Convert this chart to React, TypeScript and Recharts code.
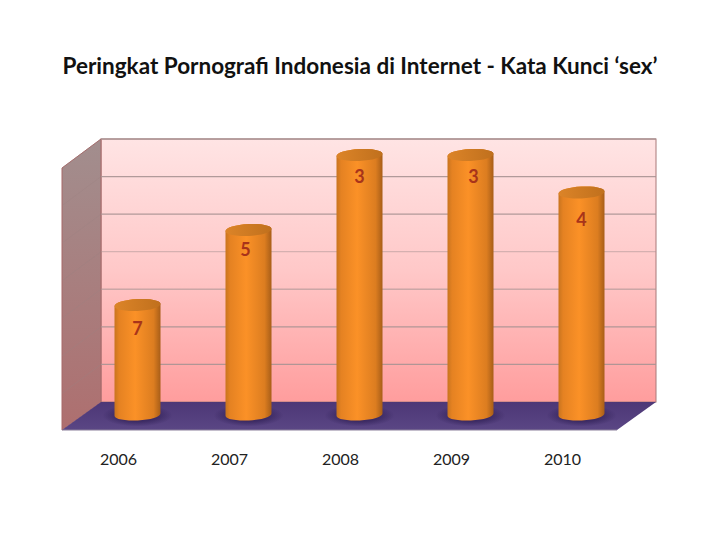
import React from "react";
import { ComposedChart, Bar, XAxis, YAxis, LabelList, Customized } from "recharts";

const years = ["2006", "2007", "2008", "2009", "2010"];
const ranks = [7, 5, 3, 3, 4];
const rankTop = 3;
const rankBase = 10;
const chartTitle = "Peringkat Pornografi Indonesia di Internet - Kata Kunci ‘sex’";

const tableData = years.map((year, i) => ({ year, rank: ranks[i], span: [rankBase, ranks[i]] }));

const W = 720, H = 540;
const LABEL_NUDGE_X = [0, -3, 0, 3, 0];
const LABEL_NUDGE_Y = [2, -2, 0, 0, 5];
const FONT = "Lato, Carlito, 'Open Sans', sans-serif";

function Walls() {
  const gridYs = [139, 176.6, 214.1, 251.7, 289.3, 326.9, 364.4];
  return (
    <g>
      <defs>
        <linearGradient id="back" x1="0" y1="0" x2="0" y2="1">
          <stop offset="0" stopColor="#ffe4e4" />
          <stop offset="0.5" stopColor="#ffc8c8" />
          <stop offset="1" stopColor="#ff9d9d" />
        </linearGradient>
        <linearGradient id="side" x1="0" y1="0" x2="0" y2="1">
          <stop offset="0" stopColor="#a28e8e" />
          <stop offset="1" stopColor="#ae6f6f" />
        </linearGradient>
        <linearGradient id="floor" x1="0" y1="0" x2="0" y2="1">
          <stop offset="0" stopColor="#4d3776" />
          <stop offset="1" stopColor="#5a4684" />
        </linearGradient>
        <linearGradient id="cyl" x1="0" y1="0" x2="1" y2="0">
          <stop offset="0" stopColor="#c8741f" />
          <stop offset="0.1" stopColor="#e58222" />
          <stop offset="0.45" stopColor="#fb9127" />
          <stop offset="0.85" stopColor="#dc7d20" />
          <stop offset="1" stopColor="#a85e18" />
        </linearGradient>
        <linearGradient id="cap" x1="0" y1="0" x2="1" y2="0">
          <stop offset="0" stopColor="#dc8428" />
          <stop offset="1" stopColor="#c0701d" />
        </linearGradient>
        <radialGradient id="shadow">
          <stop offset="0.55" stopColor="#2f1f55" stopOpacity="0.65" />
          <stop offset="1" stopColor="#2f1f55" stopOpacity="0" />
        </radialGradient>
      </defs>
      <rect x={0} y={0} width={W} height={H} fill="#ffffff" />
      <text x={360} y={74} textAnchor="middle" fontFamily={FONT} fontSize={22.5} fontWeight={700} fill="#111">
        {chartTitle}
      </text>
      <rect x={101} y={139} width={555} height={263} fill="url(#back)" stroke="#a87878" strokeWidth={1} />
      <polygon points="62,168 101,139 101,402 62,430" fill="url(#side)" stroke="#a86868" strokeWidth={1} />
      {gridYs.map((y, i) => (
        <g key={y}>
          <line x1={101} y1={y} x2={656} y2={y} stroke="#a89292" strokeWidth={i === 3 ? 1 : 1.4} strokeOpacity={i === 3 || i === 4 ? 0.6 : 0.9} />
          <line x1={62} y1={y + 29} x2={101} y2={y} stroke="#9c8080" strokeWidth={1} strokeOpacity={0.35} />
        </g>
      ))}
      <polygon points="62,430 101,402 656,402 617,430" fill="url(#floor)" />
      <line x1={62} y1={430} x2={617} y2={430} stroke="#8a7f9a" strokeWidth={1} />
    </g>
  );
}

function Cylinder(props: any) {
  const { x, y, width, height } = props;
  const top = Math.min(y, y + height);
  const h = Math.abs(height);
  const base = top + h - 3;
  const cx = x + width / 2;
  const l = x, r = x + width;
  const rx = width / 2, ry = 6, tilt = -3;
  const dy = 1.2;
  const body = `M${l},${top + dy} L${l},${base + dy} A${rx},${ry} ${tilt} 0 0 ${r},${base - dy} L${r},${top - dy} A${rx},${ry} ${tilt} 0 0 ${l},${top + dy} Z`;
  return (
    <g>
      <ellipse cx={cx} cy={base + 1} rx={width * 0.76} ry={11} fill="url(#shadow)" />
      <path d={body} fill="url(#cyl)" />
      <ellipse cx={cx} cy={top} rx={rx} ry={ry} transform={`rotate(${tilt} ${cx} ${top})`} fill="url(#cap)" />
    </g>
  );
}

function RankLabel(props: any) {
  const { x, y, width, value, index } = props;
  return (
    <text
      x={x + width / 2 + (LABEL_NUDGE_X[index] || 0)}
      y={y + 28 + (LABEL_NUDGE_Y[index] || 0)}
      textAnchor="middle"
      fontFamily={FONT}
      fontSize={18}
      fontWeight={700}
      fill="#a8341a"
    >
      {value}
    </text>
  );
}

function YearTick(props: any) {
  const { x, y, payload } = props;
  return (
    <text x={x - 18.5} y={y + 39} textAnchor="middle" fontFamily={FONT} fontSize={16} fill="#222">
      {payload.value}
    </text>
  );
}

export default function App() {
  return (
    <div style={{ position: "absolute", left: 0, top: 0, width: W, height: H, background: "#fff" }}>
      <ComposedChart
        width={W}
        height={H}
        data={tableData}
        margin={{ top: 155, right: 83.5, bottom: 62.5, left: 81.5 }}
        barSize={46}
      >
        <Customized component={Walls} />
        <XAxis dataKey="year" axisLine={false} tickLine={false} height={60} tick={YearTick} interval={0} />
        <YAxis hide reversed domain={[rankTop, rankBase]} />
        <Bar dataKey="span" isAnimationActive={false} shape={Cylinder}>
          <LabelList dataKey="rank" content={RankLabel} />
        </Bar>
      </ComposedChart>
    </div>
  );
}
